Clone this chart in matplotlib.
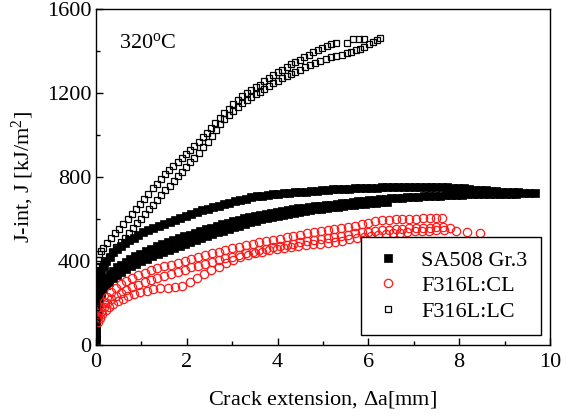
"""
J-R curves at 320 C: SA508 Gr.3 vs F316L (CL / LC orientation).
Values read off the reference figure, one list pair per specimen.
"""
import matplotlib
matplotlib.use("Agg")
import matplotlib.pyplot as plt
from matplotlib import font_manager
from matplotlib.ticker import MultipleLocator

# --- SA508 Gr.3 (filled squares), three specimens ---
sa1_da = [0.00, 0.00, 0.01, 0.01, 0.02, 0.03, 0.05, 0.08, 0.12, 0.17, 0.23, 0.30, 0.38, 0.46, 0.55,
          0.64, 0.73, 0.83, 0.93, 1.04, 1.15, 1.26, 1.38, 1.50, 1.62, 1.74, 1.86, 1.98, 2.10, 2.22,
          2.34, 2.46, 2.58, 2.70, 2.82, 2.94, 3.06, 3.18, 3.30, 3.42, 3.54, 3.66, 3.78, 3.90, 4.02,
          4.14, 4.26, 4.38, 4.50, 4.62, 4.74, 4.86, 4.98, 5.10, 5.22, 5.34, 5.46, 5.58, 5.70, 5.82,
          5.94, 6.06, 6.18, 6.30, 6.42, 6.54, 6.66, 6.78, 6.90, 7.02, 7.14, 7.26, 7.38, 7.50, 7.62,
          7.74, 7.86, 7.98, 8.10, 8.22, 8.34, 8.46, 8.58, 8.70, 8.82, 8.94, 9.06, 9.18, 9.30, 9.42,
          9.54, 9.66]
sa1_j = [30, 80, 130, 180, 230, 270, 300, 325, 350, 375, 398, 420, 440, 456, 470,
         485, 498, 510, 522, 535, 546, 556, 566, 576, 586, 596, 606, 615, 624, 632,
         640, 648, 655, 662, 669, 676, 683, 690, 696, 702, 707, 711, 714, 717, 720,
         722, 724, 726, 728, 730, 732, 734, 736, 738, 740, 741, 743, 744, 745, 746,
         747, 748, 749, 750, 750, 751, 751, 751, 752, 752, 752, 752, 751, 751, 750,
         750, 749, 748, 746, 742, 739, 737, 735, 733, 731, 729, 728, 727, 726, 725,
         724, 722]

sa2_da = [0.00, 0.00, 0.01, 0.02, 0.03, 0.05, 0.08, 0.12, 0.17, 0.23, 0.30, 0.38, 0.47, 0.56, 0.66,
          0.76, 0.87, 0.98, 1.10, 1.22, 1.34, 1.46, 1.58, 1.70, 1.82, 1.94, 2.06, 2.18, 2.30, 2.42,
          2.54, 2.66, 2.78, 2.90, 3.02, 3.14, 3.26, 3.38, 3.50, 3.62, 3.74, 3.86, 3.98, 4.10, 4.22,
          4.34, 4.46, 4.58, 4.70, 4.82, 4.94, 5.06, 5.18, 5.30, 5.42, 5.54, 5.66, 5.78, 5.90, 6.02,
          6.14, 6.26, 6.38, 6.50, 6.62, 6.74, 6.86, 6.98, 7.10, 7.22, 7.34, 7.46, 7.58, 7.70, 7.82,
          7.94, 8.06, 8.18, 8.30, 8.42, 8.54, 8.66, 8.78, 8.90, 9.02, 9.14, 9.26]
sa2_j = [20, 70, 120, 170, 210, 240, 262, 282, 300, 318, 336, 352, 368, 382, 396,
         409, 422, 434, 446, 458, 468, 478, 488, 498, 507, 516, 525, 534, 542, 550,
         558, 566, 574, 581, 588, 595, 602, 608, 614, 619, 624, 629, 634, 638, 642,
         646, 650, 653, 656, 659, 662, 665, 668, 671, 674, 677, 680, 683, 686, 689,
         691, 693, 695, 697, 699, 701, 703, 704, 706, 707, 709, 710, 711, 712, 713,
         714, 715, 716, 717, 718, 719, 720, 720, 720, 719, 718, 716]

sa3_da = [0.00, 0.01, 0.02, 0.04, 0.07, 0.11, 0.16, 0.22, 0.29, 0.37, 0.46, 0.56, 0.66, 0.77, 0.88,
          1.00, 1.12, 1.24, 1.36, 1.48, 1.60, 1.72, 1.84, 1.96, 2.08, 2.20, 2.32, 2.44, 2.56, 2.68,
          2.80, 2.92, 3.04, 3.16, 3.28, 3.40, 3.52, 3.64, 3.76, 3.88, 4.00, 4.12, 4.24, 4.36, 4.48,
          4.60, 4.72, 4.84, 4.96, 5.08, 5.20, 5.32, 5.44, 5.56, 5.68, 5.80, 5.92, 6.04, 6.16, 6.28,
          6.40]
sa3_j = [40, 100, 150, 190, 220, 245, 265, 283, 300, 316, 332, 347, 360, 373, 385,
         397, 409, 421, 432, 443, 453, 463, 472, 481, 490, 499, 508, 517, 526, 535,
         544, 552, 560, 568, 576, 584, 591, 598, 604, 610, 615, 620, 625, 629, 633,
         637, 641, 645, 649, 652, 655, 658, 661, 664, 667, 670, 672, 675, 677, 679,
         681]

# --- F316L:CL (open red circles), three specimens ---
cl1_da = [0.05, 0.10, 0.17, 0.25, 0.34, 0.44, 0.55, 0.67, 0.80, 0.93, 1.07, 1.21, 1.35, 1.50, 1.65,
          1.80, 1.95, 2.10, 2.25, 2.40, 2.55, 2.70, 2.85, 3.00, 3.15, 3.30, 3.45, 3.60, 3.75, 3.90,
          4.05, 4.20, 4.35, 4.50, 4.65, 4.80, 4.95, 5.10, 5.25, 5.40, 5.55, 5.70, 5.85, 6.00, 6.15,
          6.30, 6.45, 6.60, 6.75, 6.90, 7.05, 7.20, 7.35, 7.50, 7.62]
cl1_j = [150, 180, 205, 228, 250, 270, 288, 304, 318, 331, 343, 354, 364, 373, 382,
         391, 400, 409, 418, 427, 436, 444, 452, 460, 467, 474, 481, 488, 494, 500,
         506, 512, 518, 524, 530, 536, 541, 546, 551, 556, 561, 566, 576, 582, 588,
         592, 595, 597, 599, 600, 601, 602, 603, 603, 603]

cl2_da = [0.05, 0.10, 0.17, 0.25, 0.34, 0.44, 0.55, 0.67, 0.80, 0.93, 1.07, 1.21, 1.35, 1.50, 1.65,
          1.80, 1.95, 2.10, 2.25, 2.40, 2.55, 2.70, 2.85, 3.00, 3.15, 3.30, 3.45, 3.60, 3.75, 3.90,
          4.05, 4.20, 4.35, 4.50, 4.65, 4.80, 4.95, 5.10, 5.25, 5.40, 5.55, 5.70, 5.85, 6.00, 6.15,
          6.30, 6.45, 6.60, 6.75, 6.90, 7.05, 7.20, 7.35, 7.50, 7.65, 7.80]
cl2_j = [130, 155, 178, 198, 216, 232, 247, 261, 274, 286, 297, 308, 318, 328, 338,
         348, 358, 368, 377, 386, 395, 404, 412, 420, 428, 436, 443, 450, 457, 464,
         470, 476, 482, 488, 494, 500, 505, 510, 515, 520, 525, 530, 535, 539, 543,
         546, 549, 551, 553, 555, 556, 557, 558, 559, 560, 558]

cl3_da = [0.04, 0.08, 0.14, 0.21, 0.29, 0.38, 0.48, 0.59, 0.71, 0.84, 0.98, 1.12, 1.26, 1.42, 1.58,
          1.74, 1.90, 2.06, 2.22, 2.38, 2.54, 2.70, 2.86, 3.02, 3.18, 3.34, 3.50, 3.66, 3.82, 3.98,
          4.14, 4.30, 4.46, 4.62, 4.78, 4.94, 5.10, 5.26, 5.42, 5.58, 5.74, 5.90, 6.06, 6.22, 6.38,
          6.54, 6.70, 6.86, 7.02, 7.18, 7.34, 7.50, 7.66, 7.94, 8.17, 8.46]
cl3_j = [110, 125, 145, 163, 180, 195, 208, 220, 231, 241, 250, 258, 264, 268, 272,
         276, 282, 300, 318, 336, 354, 372, 390, 404, 416, 426, 435, 443, 450, 456,
         461, 466, 470, 474, 478, 482, 486, 490, 496, 502, 507, 512, 517, 522, 526,
         530, 534, 537, 540, 542, 544, 546, 547, 540, 538, 532]

# --- F316L:LC (open black squares), two specimens ---
lc1_da = [0.00, 0.00, 0.01, 0.02, 0.04, 0.07, 0.11, 0.16, 0.24, 0.33, 0.42, 0.51, 0.60, 0.70, 0.79,
          0.88, 0.97, 1.06, 1.15, 1.25, 1.34, 1.43, 1.52, 1.61, 1.70, 1.80, 1.89, 1.98, 2.07, 2.16,
          2.26, 2.35, 2.44, 2.54, 2.63, 2.73, 2.83, 2.92, 3.02, 3.12, 3.22, 3.32, 3.42, 3.52, 3.61,
          3.71, 3.80, 3.90, 4.00, 4.10, 4.20, 4.30, 4.39, 4.49, 4.59, 4.69, 4.79, 4.89, 4.98, 5.08,
          5.18, 5.28, 5.52, 5.67, 5.80, 5.91]
lc1_j = [180, 260, 320, 370, 405, 430, 448, 462, 485, 510, 530, 552, 575, 600, 624,
         648, 672, 696, 720, 745, 768, 790, 812, 832, 852, 872, 890, 908, 926, 945,
         966, 988, 1010, 1035, 1058, 1080, 1102, 1124, 1145, 1165, 1184, 1200, 1214, 1227, 1240,
         1256, 1270, 1284, 1298, 1311, 1324, 1336, 1348, 1359, 1371, 1383, 1395, 1406, 1416, 1425,
         1433, 1440, 1440, 1455, 1456, 1456]

lc2_da = [0.00, 0.00, 0.01, 0.02, 0.04, 0.08, 0.13, 0.20, 0.28, 0.36, 0.45, 0.54, 0.63, 0.72, 0.81,
          0.90, 0.99, 1.08, 1.17, 1.26, 1.35, 1.44, 1.53, 1.62, 1.71, 1.80, 1.89, 1.98, 2.07, 2.16,
          2.26, 2.36, 2.46, 2.55, 2.64, 2.73, 2.83, 2.92, 3.02, 3.12, 3.22, 3.32, 3.42, 3.52, 3.61,
          3.71, 3.80, 3.90, 4.00, 4.10, 4.20, 4.30, 4.39, 4.49, 4.60, 4.71, 4.82, 4.94, 5.06, 5.18,
          5.29, 5.41, 5.52, 5.62, 5.72, 5.81, 5.91, 6.01, 6.11, 6.19, 6.26]
lc2_j = [120, 200, 260, 300, 330, 355, 375, 398, 420, 442, 465, 488, 510, 532, 555,
         578, 600, 622, 645, 668, 690, 712, 735, 758, 780, 802, 825, 848, 870, 892,
         915, 940, 968, 996, 1024, 1050, 1074, 1096, 1116, 1133, 1150, 1165, 1179, 1193, 1205,
         1219, 1232, 1245, 1257, 1269, 1280, 1291, 1301, 1311, 1322, 1333, 1343, 1352, 1361, 1369,
         1376, 1383, 1390, 1397, 1404, 1411, 1420, 1431, 1443, 1453, 1464]

legend_labels = ["SA508 Gr.3", "F316L:CL", "F316L:LC"]


def _pick_serif() -> str:
    # Times-like face if one is installed, otherwise DejaVu Serif
    names = {f.name for f in font_manager.fontManager.ttflist}
    for cand in ["Liberation Serif", "Times New Roman", "Nimbus Roman", "TeX Gyre Termes", "DejaVu Serif"]:
        if cand in names:
            return cand
    return "serif"


def main() -> None:
    serif = _pick_serif()
    plt.rcParams["font.family"] = [serif, "DejaVu Serif"]
    plt.rcParams["mathtext.fontset"] = "custom"
    plt.rcParams["mathtext.rm"] = serif
    plt.rcParams["mathtext.it"] = serif + ":italic"

    fig = plt.figure(figsize=(5.66, 4.20), dpi=100)
    ax = fig.add_axes([0.1696, 0.1793, 0.8021, 0.7993])

    sa_kw = dict(linestyle="none", marker="s", markersize=5.2, color="black",
                 markeredgecolor="black", markeredgewidth=0.5)
    cl_kw = dict(linestyle="none", marker="o", markersize=6.0, markerfacecolor="none",
                 markeredgecolor="#ff1a1a", markeredgewidth=0.9)
    lc_kw = dict(linestyle="none", marker="s", markersize=4.9, markerfacecolor="none",
                 markeredgecolor="black", markeredgewidth=0.9)

    h_sa = ax.plot(sa1_da, sa1_j, label=legend_labels[0], **sa_kw)[0]
    ax.plot(sa2_da, sa2_j, **sa_kw)
    ax.plot(sa3_da, sa3_j, **sa_kw)

    h_cl = ax.plot(cl1_da, cl1_j, label=legend_labels[1], **cl_kw)[0]
    ax.plot(cl2_da, cl2_j, **cl_kw)
    ax.plot(cl3_da, cl3_j, **cl_kw)

    h_lc = ax.plot(lc1_da, lc1_j, label=legend_labels[2], **lc_kw)[0]
    ax.plot(lc2_da, lc2_j, **lc_kw)

    ax.set_xlim(0, 10)
    ax.set_ylim(0, 1600)
    ax.xaxis.set_major_locator(MultipleLocator(2))
    ax.xaxis.set_minor_locator(MultipleLocator(1))
    ax.yaxis.set_major_locator(MultipleLocator(400))
    ax.yaxis.set_minor_locator(MultipleLocator(200))
    ax.tick_params(which="both", direction="in", width=1.0, labelsize=16)
    ax.tick_params(which="major", length=5)
    ax.tick_params(which="minor", length=3)
    ax.tick_params(axis="x", pad=6)
    for sp in ax.spines.values():
        sp.set_linewidth(1.0)

    ax.set_xlabel(r"Crack extension, $\Delta$a[mm]", fontsize=16, labelpad=12)
    ax.set_ylabel(r"J-int, J [kJ/m$^2$]", fontsize=16, labelpad=8)

    ax.text(0.05, 0.885, r"320$^{\rm o}$C", transform=ax.transAxes, fontsize=16)

    leg = ax.legend(handles=[h_sa, h_cl, h_lc], loc="lower right",
                    bbox_to_anchor=(0.98, 0.029), borderaxespad=0, fontsize=16,
                    frameon=True, fancybox=False, edgecolor="black", framealpha=1,
                    handlelength=1.2, handletextpad=0.9, borderpad=0.6, labelspacing=0.22)
    leg.get_frame().set_linewidth(1.0)

    fig.savefig("out.png", dpi=100)
    plt.close(fig)


if __name__ == "__main__":
    main()
